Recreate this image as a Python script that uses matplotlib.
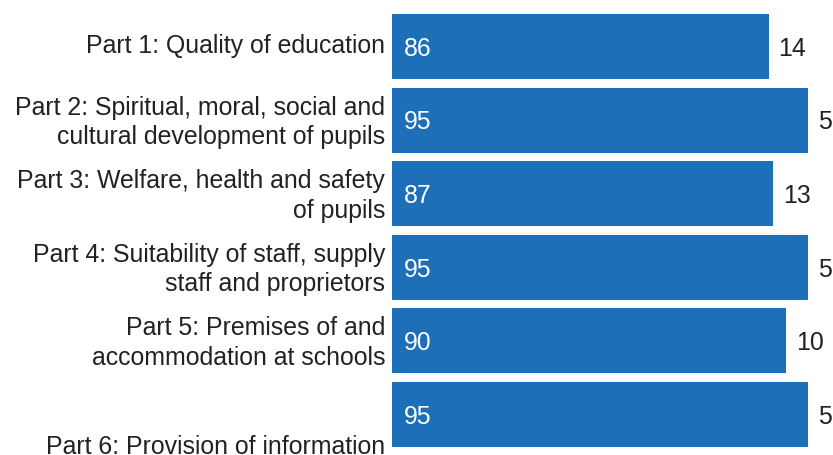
import matplotlib.pyplot as plt
import matplotlib.transforms as mtransforms
import numpy as np

plt.rcParams['font.family'] = ['Liberation Sans', 'DejaVu Sans']

# Data
categories = ["Part 1: Quality of education",
              "Part 2: Spiritual, moral, social and\ncultural development of pupils",
              "Part 3: Welfare, health and safety\nof pupils",
              "Part 4: Suitability of staff, supply\nstaff and proprietors",
              "Part 5: Premises of and\naccommodation at schools",
              "\n\nPart 6: Provision of information"]
met = [86, 95, 87, 95, 90, 95]
not_met = [14, 5, 13, 5, 10, 5]

blue = "#1d70b8"
fs = 17.9

fig = plt.figure(figsize=(8.33, 4.55), dpi=100)
W, H = 833, 455
ax = fig.add_axes([392 / W, 1 - 451.3 / H, 441 / W, (451.3 - 9.7) / H])

y = np.arange(len(categories))
ax.barh(y, met, height=0.883, color=blue)

for i in range(len(categories)):
    ax.text(2.6, y[i] + 0.03, str(met[i]), color="white", fontsize=fs, va="center", ha="left")
    ax.text(met[i] + 2.2, y[i] + 0.03, str(not_met[i]), color="#222222", fontsize=fs, va="center", ha="left")

ax.set_yticks(y)
ax.set_yticklabels(categories, fontsize=fs, color="#222222", linespacing=1.3)
ax.tick_params(axis="y", length=0, pad=5)
# nudge category labels up a few pixels
shift = mtransforms.ScaledTranslation(0, 3 / 100, fig.dpi_scale_trans)
for lab in ax.get_yticklabels():
    lab.set_transform(lab.get_transform() + shift)
ax.set_xticks([])
ax.set_xlim(0, 100.7)
ax.set_ylim(5.5, -0.5)
for s in ax.spines.values():
    s.set_visible(False)

plt.savefig("out.png", dpi=100)
